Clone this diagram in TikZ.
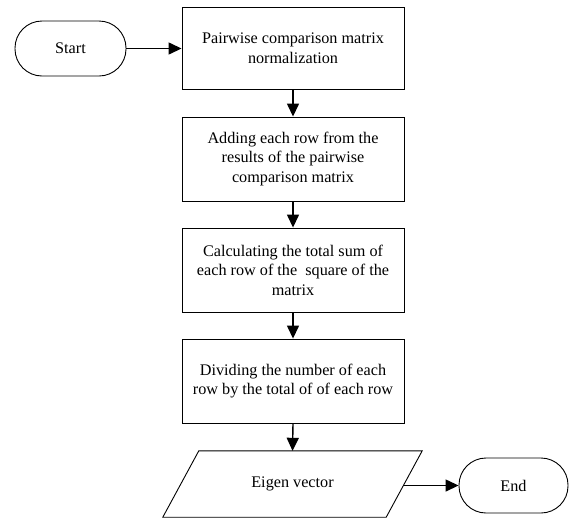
\documentclass[tikz,border=0pt]{standalone}
\usepackage{fontspec}
\setmainfont{Liberation Serif}
\usetikzlibrary{arrows.meta,calc}
\begin{document}
\begin{tikzpicture}[x=1pt,y=-1pt,
  txt/.style={font=\fontsize{16.2}{19.5}\selectfont},
  proc/.style={draw,line width=0.9pt,minimum width=222pt,minimum height=84pt,align=center,inner sep=2pt,txt},
  term/.style={draw,line width=0.9pt,rounded corners=27pt,minimum width=111pt,minimum height=55pt,txt},
  conn/.style={line width=1.4pt,-{Triangle[length=13pt,width=12pt]}}]
\useasboundingbox (0,0) rectangle (569,520);
\node[term] (start) at (70.5,48.5) {Start};
\node[proc,minimum height=82pt] (b1) at (293,48) {Pairwise comparison matrix\\normalization};
\node[proc] (b2) at (293,159) {Adding each row from the\\results of the pairwise\\comparison matrix};
\node[proc] (b3) at (293,270) {Calculating the total sum of\\each row of the \ square of the\\matrix};
\node[proc] (b4) at (293,381) {Dividing the number of each\\row by the total of of each row};
\node[minimum width=223pt,minimum height=66pt,inner sep=0pt,txt] (ev) at (292.5,484) {Eigen vector};
\draw[line width=0.9pt] ($(ev.north west)+(18,0)$) -- ($(ev.north east)+(18,0)$) -- ($(ev.south east)+(-18,0)$) -- ($(ev.south west)+(-18,0)$) -- cycle;
\node[term,minimum width=109pt] (end) at (513.5,485.5) {End};
\draw[conn] (start.east) -- (b1.west |- start.east);
\draw[conn] (b1) -- (b2);
\draw[conn] (b2) -- (b3);
\draw[conn] (b3) -- (b4);
\draw[conn] (b4.south) -- (ev.north);
\draw[conn] (ev.east |- end.west) -- (end.west);
\end{tikzpicture}
\end{document}
